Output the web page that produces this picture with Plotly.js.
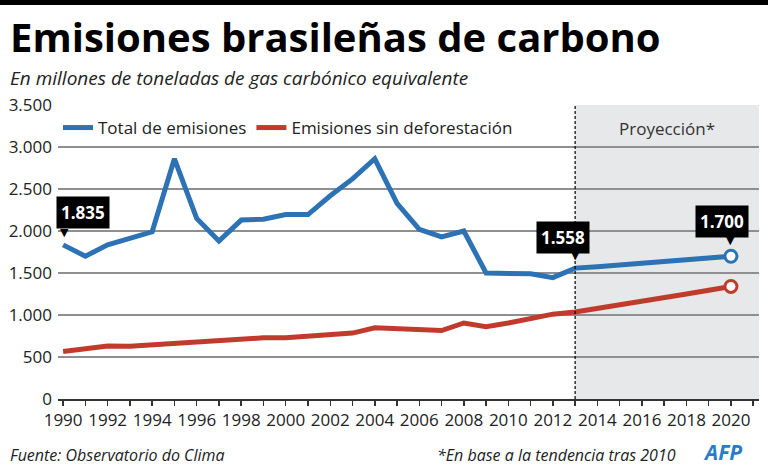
<!DOCTYPE html>
<html>
<head>
<meta charset="utf-8">
<script src="https://cdn.plot.ly/plotly-3.0.1.min.js"></script>
<style>
  html, body { margin: 0; padding: 0; background: #fff; }
  #wrap { position: relative; width: 768px; height: 466px; }
  #chart { position: absolute; left: 0; top: 0; width: 768px; height: 466px; }
  #topbar { position: absolute; left: 0; top: 0; width: 768px; height: 5px; background: #000; z-index: 5; }
</style>
</head>
<body>
<div id="wrap"><div id="chart"></div><div id="topbar"></div></div>
<script>
// ---- Data ----
const years = [1990,1991,1992,1993,1994,1995,1996,1997,1998,1999,2000,2001,2002,2003,2004,2005,2006,2007,2008,2009,2010,2011,2012,2013,2014,2015,2016,2017,2018,2019,2020];
const totalEmissions = [1835,1700,1835,1920,1990,2860,2150,1880,2130,2140,2195,2195,2420,2620,2860,2330,2020,1930,2000,1500,1500,1490,1445,1558,1575,1595,1615,1635,1658,1680,1700];
const noDeforestation = [565,605,630,628,645,665,688,705,725,728,728,745,765,785,848,835,828,815,905,860,905,960,1010,1035,1075,1115,1160,1205,1250,1295,1340];
const seriesNames = ["Total de emisiones", "Emisiones sin deforestación"];
const projectionStart = 2013;
const labelYears = [1990, 2013, 2020];
const yTicks = [0,500,1000,1500,2000,2500,3000,3500];
const xTicks = [1990,1992,1994,1996,1998,2000,2002,2004,2006,2008,2010,2012,2014,2016,2018,2020];

const titleText = "Emisiones brasileñas de carbono";
const subtitleText = "En millones de toneladas de gas carbónico equivalente";
const projText = "Proyección*";
const sourceText = "Fuente: Observatorio do Clima";
const noteText = "*En base a la tendencia tras 2010";

// ---- Layout geometry ----
const W = 768, H = 466;
const L = 58, R = 759, T = 105, B = 399;
const xRange = [1989.77, 2021.26];
const px2x = px => (px - L) / (R - L);
const py2y = py => (B - py) / (B - T);

const BLUE = '#2c72b4';
const RED = '#c13b2d';
const FONT = 'Open Sans, Lato, sans-serif';

const fmt = v => Math.round(v).toString().replace(/\B(?=(\d{3})+(?!\d))/g, '.');

const last = years.length - 1;
const traces = [
  { x: years, y: totalEmissions, name: seriesNames[0], type: 'scatter', mode: 'lines',
    line: { color: BLUE, width: 5, shape: 'linear' }, hoverinfo: 'skip' },
  { x: years, y: noDeforestation, name: seriesNames[1], type: 'scatter', mode: 'lines',
    line: { color: RED, width: 5 }, hoverinfo: 'skip' },
  { x: [years[last]], y: [totalEmissions[last]], type: 'scatter', mode: 'markers', showlegend: false,
    marker: { symbol: 'circle', size: 12, color: '#ffffff', line: { color: BLUE, width: 3 } }, hoverinfo: 'skip' },
  { x: [years[last]], y: [noDeforestation[last]], type: 'scatter', mode: 'markers', showlegend: false,
    marker: { symbol: 'circle', size: 12, color: '#ffffff', line: { color: RED, width: 3 } }, hoverinfo: 'skip' }
];

// label box offsets (px) for each labelled point
const boxShift = [[20, 32], [-12, 31], [-8.5, 35]];
const ptrShift = [[1, 12], [0, 13], [0, 16]];

const annotations = [
  { text: '<b>' + titleText + '</b>', xref: 'paper', yref: 'paper', x: px2x(8), y: py2y(37),
    xanchor: 'left', yanchor: 'middle', showarrow: false,
    font: { family: FONT, size: 40, color: '#000' } },
  { text: subtitleText, xref: 'paper', yref: 'paper', x: px2x(8), y: py2y(78),
    xanchor: 'left', yanchor: 'middle', showarrow: false,
    font: { family: FONT, size: 19, color: '#222', style: 'italic' } },
  { text: projText, xref: 'x', yref: 'paper', x: (projectionStart + xRange[1]) / 2, y: py2y(128),
    xanchor: 'center', yanchor: 'middle', showarrow: false,
    font: { family: FONT, size: 17, color: '#333' } },
  { text: sourceText, xref: 'paper', yref: 'paper', x: px2x(8), y: py2y(455),
    xanchor: 'left', yanchor: 'middle', showarrow: false,
    font: { family: FONT, size: 16, color: '#222', style: 'italic' } },
  { text: noteText, xref: 'paper', yref: 'paper', x: px2x(678), y: py2y(455),
    xanchor: 'right', yanchor: 'middle', showarrow: false,
    font: { family: FONT, size: 16, color: '#222', style: 'italic' } },
  { text: '<b><i>AFP</i></b>', xref: 'paper', yref: 'paper', x: px2x(722), y: py2y(452),
    xanchor: 'center', yanchor: 'middle', showarrow: false,
    font: { family: FONT, size: 21, color: '#2b7bcb' } }
];

labelYears.forEach((yr, i) => {
  const idx = years.indexOf(yr);
  const v = totalEmissions[idx];
  annotations.push({
    text: '<b>' + fmt(v) + '</b>', xref: 'x', yref: 'y', x: yr, y: v,
    xshift: boxShift[i][0], yshift: boxShift[i][1], showarrow: false,
    bgcolor: '#000', borderpad: 4, xanchor: 'center', yanchor: 'middle',
    font: { family: FONT, size: 17, color: '#fff' }
  });
  annotations.push({
    text: '▼', xref: 'x', yref: 'y', x: yr, y: v,
    xshift: ptrShift[i][0], yshift: ptrShift[i][1], showarrow: false,
    xanchor: 'center', yanchor: 'middle',
    font: { family: 'DejaVu Sans', size: 11, color: '#000' }
  });
});

const layout = {
  width: W, height: H,
  margin: { l: L, r: W - R, t: T, b: H - B, pad: 0, autoexpand: false },
  paper_bgcolor: '#ffffff', plot_bgcolor: 'rgba(0,0,0,0)',
  separators: ',.',
  font: { family: FONT, size: 16, color: '#222' },
  showlegend: true,
  legend: { orientation: 'h', x: 0, xanchor: 'left', y: py2y(128), yanchor: 'middle',
    bgcolor: 'rgba(0,0,0,0)', font: { family: FONT, size: 17, color: '#222' },
    itemwidth: 30, tracegroupgap: 0, traceorder: 'normal' },
  xaxis: {
    range: xRange, tickvals: xTicks, ticktext: xTicks.map(String),
    ticks: 'outside', ticklen: 5, tickwidth: 1.5, tickcolor: '#333',
    minor: { dtick: 1, tick0: 1990, ticks: 'outside', ticklen: 5, tickwidth: 1.5, tickcolor: '#333', showgrid: false },
    showline: true, linecolor: '#333', linewidth: 1.5, showgrid: false, zeroline: false,
    tickfont: { family: FONT, size: 17, color: '#222' }, fixedrange: true
  },
  yaxis: {
    range: [0, 3500], tickvals: yTicks, tickformat: ',d',
    showgrid: true, gridcolor: '#8f8f8f', gridwidth: 1.5, zeroline: false, showline: false,
    ticks: '', ticklabelstandoff: 5,
    tickfont: { family: FONT, size: 17, color: '#222' }, fixedrange: true
  },
  shapes: [
    { type: 'rect', xref: 'x', yref: 'paper', x0: projectionStart, x1: xRange[1], y0: 0, y1: 1,
      fillcolor: '#e7e8e9', line: { width: 0 }, layer: 'below' },
    { type: 'line', xref: 'x', yref: 'paper', x0: projectionStart, x1: projectionStart, y0: 0, y1: 1,
      line: { color: '#000', width: 1.2, dash: '3px,2px' }, layer: 'above' }
  ],
  annotations: annotations
};

Plotly.newPlot('chart', traces, layout, { displayModeBar: false, staticPlot: true });
</script>
</body>
</html>
